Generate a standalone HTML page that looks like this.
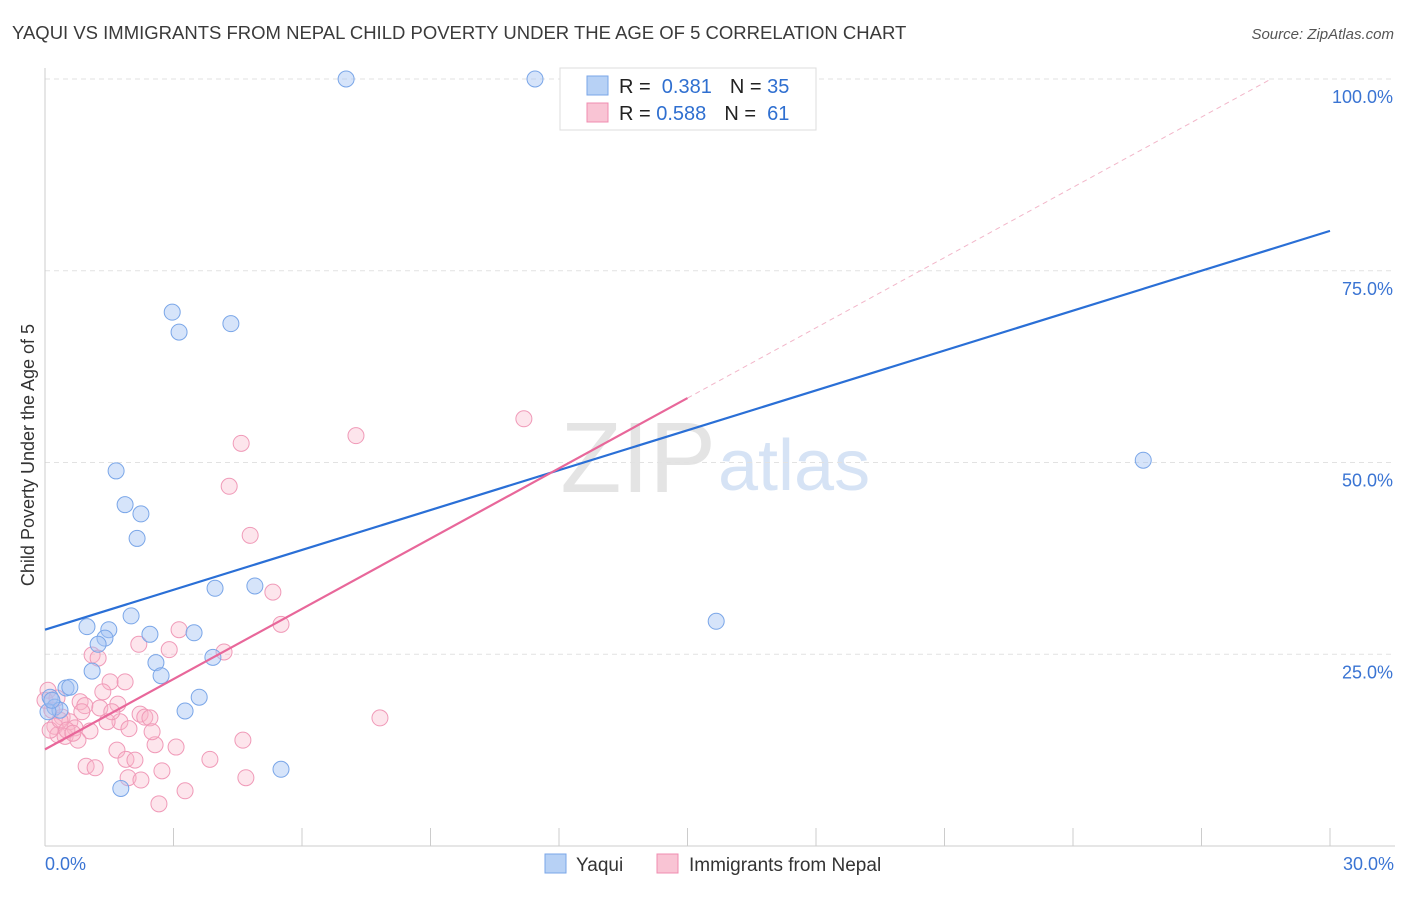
<!DOCTYPE html>
<html><head><meta charset="utf-8"><style>
body{margin:0;background:#fff;font-family:"Liberation Sans",sans-serif;}
svg text{font-family:"Liberation Sans",sans-serif;}
</style></head><body>
<svg id="c" width="1406" height="892" xmlns="http://www.w3.org/2000/svg">
<text x="12" y="39" font-size="18.5" fill="#3a3a3a">YAQUI VS IMMIGRANTS FROM NEPAL CHILD POVERTY UNDER THE AGE OF 5 CORRELATION CHART</text>
<text x="1394" y="39" font-size="15" fill="#555" font-style="italic" text-anchor="end">Source: ZipAtlas.com</text>
<text x="716" y="492" font-size="100" fill="#e4e4e4" text-anchor="end" font-family="Liberation Serif">ZIP</text>
<text x="718" y="490" font-size="72" fill="#d6e3f5">atlas</text>
<text transform="translate(34,455) rotate(-90)" font-size="18" fill="#333" text-anchor="middle">Child Poverty Under the Age of 5</text>
<g id="grid"></g><g id="pts"></g><g id="lines"></g>
<g>
<rect x="560" y="68" width="256" height="62" fill="#fff" stroke="#ddd"/>
<rect x="587" y="76" width="21" height="19" fill="#b7d1f5" stroke="#7aa6e8"/>
<rect x="587" y="103" width="21" height="19" fill="#f9c4d4" stroke="#f08cb0"/>
<text x="619" y="93" font-size="20" fill="#222">R = <tspan fill="#2f6fd0">&#160;0.381</tspan><tspan dx="18">N = </tspan><tspan fill="#2f6fd0">35</tspan></text>
<text x="619" y="120" font-size="20" fill="#222">R = <tspan fill="#2f6fd0">0.588</tspan><tspan dx="18">N = </tspan><tspan fill="#2f6fd0">&#160;61</tspan></text>
</g>
<g>
<rect x="545" y="854" width="21" height="19" fill="#b7d1f5" stroke="#7aa6e8"/>
<text x="576" y="871" font-size="19" fill="#333">Yaqui</text>
<rect x="657" y="854" width="21" height="19" fill="#f9c4d4" stroke="#f08cb0"/>
<text x="689" y="871" font-size="19" fill="#333">Immigrants from Nepal</text>
</g>
</svg>
<script>
const yTicks=[25,50,75,100];
const xTickLabels=["0.0%","30.0%"];
const blueX=[7.03,11.44,2.97,3.13,4.34,1.66,1.87,2.24,2.15,25.64,15.67,3.97,4.90,2.01,0.98,1.49,1.40,1.24,2.45,3.48,2.59,2.71,3.92,1.10,0.49,0.58,3.60,3.27,0.12,0.23,0.35,0.07,1.77,5.51,0.16];
const blueY=[100,100,69.6,67.0,68.1,48.9,44.5,43.3,40.1,50.3,29.3,33.6,33.9,30.0,28.6,28.2,27.1,26.3,27.6,27.8,23.9,22.2,24.6,22.8,20.6,20.7,19.4,17.6,19.4,18.1,17.7,17.5,7.5,10.0,19.0];
const pinkX=[11.18,7.26,4.58,4.30,4.79,5.32,5.51,3.13,2.19,2.90,4.18,1.10,1.24,1.52,1.87,1.35,0.82,0.93,1.70,1.28,2.22,2.33,2.45,1.75,1.45,1.96,1.05,0.40,0.58,0.70,0.07,0.16,0.23,0.30,0.47,0.77,2.57,3.06,4.62,1.68,1.89,3.85,0.96,1.17,2.73,1.94,2.24,4.69,3.27,2.66,7.82,0.12,0.35,0.51,0.65,0.86,1.56,2.10,2.50,0,0.28];
const pinkY=[55.7,53.5,52.5,46.9,40.5,33.1,28.9,28.2,26.3,25.6,25.3,24.9,24.5,21.4,21.4,20.1,18.8,18.3,18.5,18.0,17.2,16.8,16.7,16.2,16.2,15.3,15.0,16.8,16.2,15.4,20.3,17.7,15.6,14.5,14.3,13.8,13.2,12.9,13.8,12.5,11.3,11.3,10.4,10.2,9.8,8.9,8.6,8.9,7.2,5.5,16.7,15.1,16.4,15.1,14.7,17.5,17.5,11.2,14.9,19.0,19.3];
const blueLine=[28.2,80.2];
const pinkLine=[12.6,58.4];
const NS="http://www.w3.org/2000/svg";
const X=v=>45+v*(1285/30), Y=v=>846-v*7.67;
function mk(t,a,p){const e=document.createElementNS(NS,t);for(const k in a)e.setAttribute(k,a[k]);p.appendChild(e);return e;}
const grid=document.getElementById('grid');
yTicks.forEach(t=>{
 const l=mk('line',{x1:45,x2:1395,y1:Y(t),y2:Y(t),stroke:'#e2e2e2','stroke-dasharray':'5,4'},grid);
 
 
 const tx=mk('text',{x:1393,y:Y(t)+24,'font-size':18,fill:'#3a74d3','text-anchor':'end'},grid);
 tx.textContent=t.toFixed(1)+'%';
 
 
});
const ax=mk('line',{x1:45,x2:1395,y1:846,y2:846,stroke:'#ccc'},grid);


const ay=mk('line',{x1:45,x2:45,y1:68,y2:846,stroke:'#ccc'},grid);


for(let i=0;i<=10;i++){const t=mk('line',{x1:X(i*3),x2:X(i*3),y1:828,y2:846,stroke:'#ccc'},grid);
 
 }
[[0,xTickLabels[0],'start',45],[30,xTickLabels[1],'end',1394]].forEach(d=>{
 const t=mk('text',{x:d[3],y:870,'font-size':18,fill:'#3a74d3','text-anchor':d[2]},grid);t.textContent=d[1];
 
 });
const pts=document.getElementById('pts');
pinkX.forEach((x,i)=>{const c=mk('circle',{cx:X(x),cy:Y(pinkY[i]),r:8,fill:'rgba(248,180,200,0.35)',stroke:'#f09ab8','stroke-width':1},pts);
 
 });
blueX.forEach((x,i)=>{const c=mk('circle',{cx:X(x),cy:Y(blueY[i]),r:8,fill:'rgba(164,196,244,0.45)',stroke:'#7aa6e8','stroke-width':1},pts);
 
 });
const lines=document.getElementById('lines');
const slope=(pinkLine[1]-pinkLine[0])/15;
const xEnd=(100-pinkLine[0])/slope;
const pd=mk('line',{x1:X(15),y1:Y(pinkLine[1]),x2:X(xEnd),y2:Y(100),stroke:'#f2b6c9','stroke-dasharray':'5,4','stroke-width':1},lines);


const bl=mk('line',{x1:X(0),y1:Y(blueLine[0]),x2:X(30),y2:Y(blueLine[1]),stroke:'#2a6fd6','stroke-width':2.2},lines);


const pl=mk('line',{x1:X(0),y1:Y(pinkLine[0]),x2:X(15),y2:Y(pinkLine[1]),stroke:'#e8679a','stroke-width':2.2},lines);


</script>
</body></html>
